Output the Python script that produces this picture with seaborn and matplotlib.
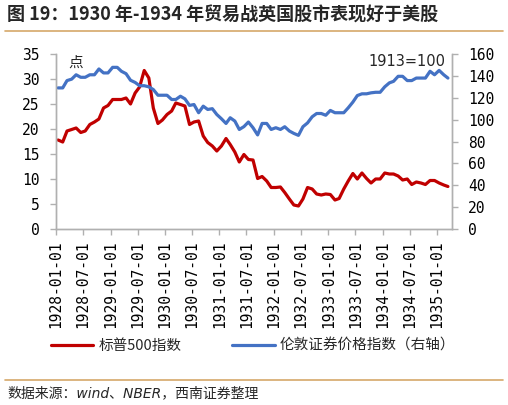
import numpy as np
import pandas as pd
import matplotlib
matplotlib.use('Agg')
import matplotlib.pyplot as plt
from matplotlib.lines import Line2D
import seaborn as sns

# 月度数据 1928-01 ~ 1935-03
months = pd.date_range('1928-01-01', '1935-03-01', freq='MS')

# 标普500指数（左轴，点）
sp500 = [17.8, 17.4, 19.6, 19.9, 20.2, 19.3, 19.6, 20.9, 21.4, 22.0,
         24.2, 24.7, 25.9, 25.9, 25.9, 26.2, 25.0, 27.2, 28.4, 31.7,
         30.2, 24.2, 21.1, 21.8, 22.9, 23.6, 25.2, 24.9, 24.6, 20.9,
         21.4, 21.6, 18.6, 17.3, 16.6, 15.6, 16.6, 18.1, 16.9, 15.4,
         13.4, 14.9, 13.9, 13.8, 10.1, 10.5, 9.6, 8.3, 8.3, 8.4,
         7.3, 6.0, 4.8, 4.6, 6.0, 8.3, 8.0, 7.0, 6.8, 7.0,
         6.9, 5.8, 6.1, 8.0, 9.6, 11.1, 10.0, 11.2, 10.1, 9.2,
         10.0, 10.0, 11.2, 11.0, 11.0, 10.6, 9.8, 10.0, 8.9, 9.4,
         9.2, 8.9, 9.7, 9.7, 9.2, 8.8, 8.5]

# 伦敦证券价格指数（右轴，1913=100）
london = [129.0, 129.0, 135.7, 137.0, 141.0, 138.7, 138.7, 141.0, 141.0, 146.3,
          142.7, 142.7, 147.8, 147.8, 144.2, 142.0, 136.0, 134.0, 131.0, 131.0,
          130.0, 127.5, 122.3, 122.3, 122.3, 118.4, 118.4, 121.4, 119.0, 113.0,
          113.8, 106.3, 112.3, 109.3, 110.0, 104.7, 100.8, 96.5, 101.7, 98.7,
          91.0, 93.6, 97.8, 92.6, 86.0, 96.5, 96.5, 91.0, 92.6, 91.0,
          93.5, 89.6, 87.4, 85.6, 93.5, 97.0, 102.6, 105.6, 105.6, 104.0,
          108.4, 106.3, 106.3, 106.3, 110.8, 116.0, 122.0, 123.6, 123.6, 124.5,
          125.0, 125.0, 130.0, 133.6, 135.0, 139.6, 139.6, 135.7, 135.7, 138.0,
          138.0, 138.0, 144.2, 141.0, 145.0, 141.0, 138.0]

tick_dates = pd.date_range('1928-01-01', '1935-01-01', freq='6MS')
left_ticks = [0, 5, 10, 15, 20, 25, 30, 35]
right_ticks = [0, 20, 40, 60, 80, 100, 120, 140, 160]

title = '图 19：1930 年-1934 年贸易战英国股市表现好于美股'
source = '数据来源：wind、NBER，西南证券整理'

RED = '#C00000'
BLUE = '#4472C4'
GRID_GRAY = '#B0B0B0'
RULE = '#D6A86A'

sns.set_theme(style='white')
plt.rcParams['font.family'] = ['Noto Sans CJK SC', 'DejaVu Sans']
plt.rcParams['axes.unicode_minus'] = False

fig = plt.figure(figsize=(5.08, 4.05), dpi=100)
ax = fig.add_axes([56 / 508, 1 - 229 / 405, (451.5 - 56) / 508, (229 - 54) / 405])
ax2 = ax.twinx()

# 数据点放在月中
xpos = months + pd.Timedelta(days=14)
df = pd.DataFrame({'date': xpos, 'sp500': sp500, 'london': london})

sns.lineplot(data=df, x='date', y='sp500', ax=ax, color=RED, linewidth=2.3, legend=False)
sns.lineplot(data=df, x='date', y='london', ax=ax2, color=BLUE, linewidth=2.3, legend=False)

ax.set_xlim(pd.Timestamp('1928-01-01'), pd.Timestamp('1935-04-08'))
ax.set_ylim(0, 35)
ax2.set_ylim(0, 160)
ax.set_yticks(left_ticks)
ax2.set_yticks(right_ticks)
ax.set_xticks(tick_dates)
ax.set_xticklabels([d.strftime('%Y-%m-%d') for d in tick_dates], rotation=90)
ax.set_xlabel('')
ax.set_ylabel('')
ax2.set_ylabel('')

mono = 'DejaVu Sans Mono'
for a in (ax, ax2):
    a.grid(False)
    a.spines['top'].set_visible(False)
    for s in ('left', 'right', 'bottom'):
        a.spines[s].set_color(GRID_GRAY)
        a.spines[s].set_linewidth(1.0)
    for lab in a.get_xticklabels() + a.get_yticklabels():
        lab.set_family(mono)
        lab.set_fontsize(10.5)
        lab.set_color('black')

ax.tick_params(axis='x', direction='out', length=4, width=1, color=GRID_GRAY, pad=4, bottom=True)
ax.tick_params(axis='y', direction='out', length=4, width=1, color=GRID_GRAY, pad=8, left=True)
ax2.tick_params(axis='y', direction='out', length=4, width=1, color=GRID_GRAY, pad=8, right=True)

ax.text(0.03, 0.99, '点', transform=ax.transAxes, ha='left', va='top', fontsize=10.5)
ax2.text(0.985, 1.0, '1913=100', transform=ax.transAxes, ha='right', va='top',
         fontsize=10.5, family='DejaVu Sans')

# 标题与分隔线
fig.text(7 / 508, 1 - 15 / 405, title, ha='left', va='center', fontsize=13, fontweight='bold')
fig.add_artist(Line2D([5 / 508, 503 / 508], [1 - 31 / 405] * 2, color=RULE, linewidth=1.2))
fig.add_artist(Line2D([5 / 508, 503 / 508], [1 - 380 / 405] * 2, color=RULE, linewidth=1.2))

handles = [Line2D([], [], color=RED, linewidth=2.3), Line2D([], [], color=BLUE, linewidth=2.3)]
fig.legend(handles, ['标普500指数', '伦敦证券价格指数（右轴）'], loc='center left',
           bbox_to_anchor=(51 / 508, 1 - 346 / 405), ncol=2, frameon=False,
           handlelength=2.9, handletextpad=0.35, columnspacing=3.5,
           borderpad=0, borderaxespad=0, prop={'size': 10.5})

fig.text(7 / 508, 1 - 393 / 405, source, ha='left', va='center', fontsize=10,
         style='italic', family=['DejaVu Sans', 'Noto Sans CJK SC'])

fig.savefig('out.png', dpi=100)
